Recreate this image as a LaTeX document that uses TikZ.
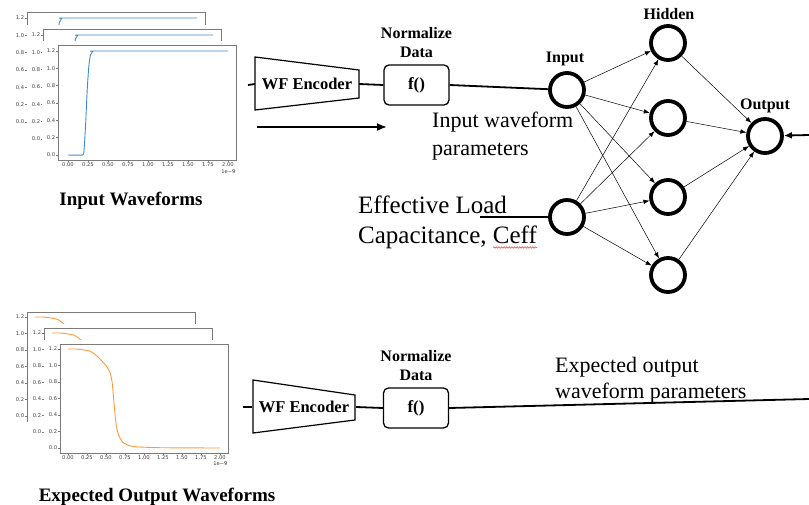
\documentclass[tikz,border=0pt]{standalone}
\usepackage{fontspec}
\setmainfont{Liberation Serif}
\newfontfamily\tickfont{DejaVu Sans}
\usetikzlibrary{arrows.meta,decorations.pathmorphing}

\definecolor{wfblue}{HTML}{3C8DD0}
\definecolor{wforange}{HTML}{FF9A3C}
\definecolor{axisgray}{HTML}{7A7A7A}
\definecolor{ticktext}{HTML}{404040}

\tikzset{
  ticklbl/.style={font=\tickfont\fontsize{5.2}{6}\selectfont, text=ticktext, inner sep=0.3pt},
  axisline/.style={draw=axisgray, line width=0.7pt},
  tickmark/.style={draw=axisgray, line width=0.5pt},
  neuron/.style={circle, draw, line width=3.8pt, minimum size=34pt, inner sep=0pt},
  syn/.style={-{Latex[length=6pt,width=4.5pt]}, line width=0.5pt},
  wire/.style={line width=1.8pt},
  encshape/.style={line width=1.2pt},
  normbox/.style={draw, rounded corners=5pt, line width=1.3pt, minimum width=65pt, minimum height=40pt, inner sep=0pt, font=\bfseries\fontsize{17}{17}\selectfont},
  enclabel/.style={minimum width=104pt, minimum height=53pt, inner sep=0pt, font=\bfseries\fontsize{16.5}{17}\selectfont},
  hdr/.style={font=\bfseries\fontsize{16}{19}\selectfont, inner sep=0pt},
  caption/.style={font=\bfseries\fontsize{19}{22}\selectfont, inner sep=0pt},
  plain22/.style={font=\fontsize{22}{26}\selectfont, inner sep=0pt},
  plain25/.style={font=\fontsize{25}{29}\selectfont, inner sep=0pt},
}

% rising step response panel, frame 178 x 115
\newcommand\risingplot[3]{%
\begin{scope}[shift={(#1,#2)}]
  \fill[white] (-16,-4) rectangle (182,132);
  \draw[axisline] (0,0) rectangle (178,115);
  \foreach \k/\lab in {0/0.0,1/0.2,2/0.4,3/0.6,4/0.8,5/1.0,6/1.2}{
    \draw[tickmark] (-2,110-17.33*\k) -- (0,110-17.33*\k);
    \node[ticklbl, anchor=east] (ry#3\k) at (-2.3,110-17.33*\k) {\lab};
  }
  \foreach \i/\lab in {0/0.00,1/0.25,2/0.50,3/0.75,4/1.00,5/1.25,6/1.50,7/1.75,8/2.00}{
    \draw[tickmark] (10+20*\i,115) -- (10+20*\i,117);
    \node[ticklbl, anchor=north] (rx#3\i) at (10+20*\i,117.6) {\lab};
  }
  \node[ticklbl, anchor=north east] (re#3) at (178,124.5) {1e−9};
  \draw[wfblue, line width=0.9pt] plot[smooth, tension=0.35] coordinates
    {(10,110) (24.4,110) (26,105.7) (27.6,79.7) (29.2,45) (30.8,21.6)
     (32.4,10.3) (34.8,6.4) (38.8,6) (170,6)};
\end{scope}}

% falling response panel, frame 168 x 109
\newcommand\fallingplot[3]{%
\begin{scope}[shift={(#1,#2)}]
  \fill[white] (-16,-4) rectangle (172,124);
  \draw[axisline] (0,0) rectangle (168,109);
  \foreach \k/\lab in {0/0.0,1/0.2,2/0.4,3/0.6,4/0.8,5/1.0,6/1.2}{
    \draw[tickmark] (-2,104-16.5*\k) -- (0,104-16.5*\k);
    \node[ticklbl, anchor=east] (fy#3\k) at (-2.3,104-16.5*\k) {\lab};
  }
  \foreach \i/\lab in {0/0.00,1/0.25,2/0.50,3/0.75,4/1.00,5/1.25,6/1.50,7/1.75,8/2.00}{
    \draw[tickmark] (8+19*\i,109) -- (8+19*\i,111);
    \node[ticklbl, anchor=north] (fx#3\i) at (8+19*\i,111.6) {\lab};
  }
  \node[ticklbl, anchor=north east] (fe#3) at (168,117.5) {1e−9};
  \draw[wforange, line width=0.9pt] plot[smooth, tension=0.35] coordinates
    {(8,5) (15.6,5) (23.2,5.8) (30.8,7.5) (38.4,13.25) (42.2,17.4) (46,21.5)
     (49.8,28.1) (52.1,38) (53.6,54.5) (55.1,71) (56.6,83.4) (58.9,91.6)
     (62.7,98.2) (68.8,101.5) (76.4,102.8) (84,103.2) (103,103.75) (160,104)};
\end{scope}}

\begin{document}
\begin{tikzpicture}[x=1pt,y=-1pt]
\useasboundingbox (0,0) rectangle (809,504);

% ---------- waveform stacks ----------
\risingplot{27}{12}{a}
\risingplot{43}{29}{b}
\risingplot{58}{45}{c}
\node[caption, anchor=base] (capin) at (131,205) {Input Waveforms};

\fallingplot{27}{312}{a}
\fallingplot{44}{328}{b}
\fallingplot{60}{344}{c}
\node[caption, anchor=base] (capout) at (157,501) {Expected Output Waveforms};

% ---------- upper encoder chain ----------
\node[enclabel] (enc1) at (307,84) {WF Encoder};
\draw[encshape] (255,57) -- (359,70) -- (359,98) -- (255,110) -- cycle;
\node[normbox] (nb1) at (416.5,85) {f()};
\node[hdr, anchor=base] (nt1) at (416.5,38) {Normalize};
\node[hdr, anchor=base] (nd1) at (416.5,57) {Data};
\coordinate (src1) at (248,85);
\draw[wire] (src1) -- (enc1.west);
\draw[wire] (enc1.east) -- (nb1.west);

\coordinate (arrA) at (257,127);
\coordinate (arrB) at (387,127);
\draw[wire, -{Latex[length=10pt,width=8pt]}] (arrA) -- (arrB);

\node[plain22, anchor=base west] (iw1) at (432,127) {Input waveform};
\node[plain22, anchor=base west] (iw2) at (432,155) {parameters};

\node[plain25, anchor=base west] (el1) at (358,213) {Effective Load};
\node[plain25, anchor=base west] (el2) at (358,243) {Capacitance, Ceff};
\draw[red!80, line width=0.5pt, decorate, decoration={snake, amplitude=0.8pt, segment length=2.6pt}]
  (493,247.5) -- (537,247.5);

% ---------- network ----------
\node[neuron] (in1) at (567,90) {};
\node[neuron] (in2) at (567,217) {};
\node[neuron] (h1) at (668,43) {};
\node[neuron] (h2) at (668,118) {};
\node[neuron] (h3) at (668,197) {};
\node[neuron] (h4) at (668,275) {};
\node[neuron] (out) at (765,136) {};

\node[hdr, anchor=base] (lin) at (565,62) {Input};
\node[hdr, anchor=base] (lhid) at (669,19) {Hidden};
\node[hdr, anchor=base] (lout) at (765,109) {Output};

\draw[wire] (nb1.east) -- (in1);
\coordinate (ceffsrc) at (480,217);
\draw[wire] (ceffsrc) -- (in2);

\foreach \s in {in1,in2}
  \foreach \t in {h1,h2,h3,h4}
    \draw[syn] (\s) -- (\t);
\foreach \t in {h1,h2,h3,h4}
  \draw[syn] (\t) -- (out);

\coordinate (fb) at (809,135);
\draw[wire, -{Latex[length=8pt,width=7pt]}] (fb) -- (out);

% ---------- lower encoder chain ----------
\node[enclabel] (enc2) at (304,407) {WF Encoder};
\draw[encshape] (253,380) -- (355,395) -- (355,420) -- (253,433) -- cycle;
\node[normbox] (nb2) at (416,408) {f()};
\node[hdr, anchor=base] (nt2) at (416,361) {Normalize};
\node[hdr, anchor=base] (nd2) at (416,380) {Data};
\coordinate (src2) at (243,407);
\draw[wire] (src2) -- (enc2.west);
\draw[wire] (enc2.east) -- (nb2.west);
\coordinate (sink2) at (809,399);
\draw[wire] (nb2.east) -- (sink2);

\node[plain22, anchor=base west] (eo1) at (555,372) {Expected output};
\node[plain22, anchor=base west] (eo2) at (555,398) {waveform parameters};
\end{tikzpicture}
\end{document}
